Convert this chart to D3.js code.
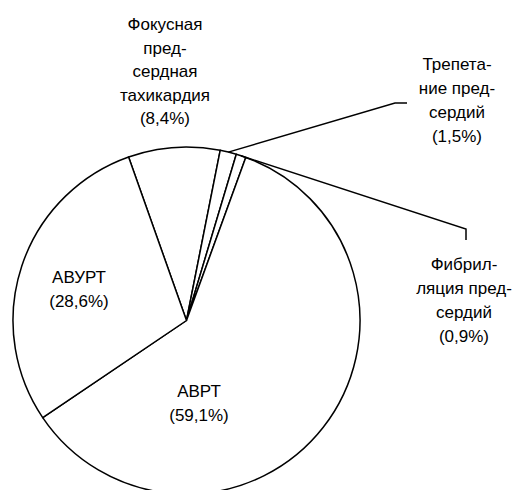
<!DOCTYPE html>
<html>
<head>
<meta charset="utf-8">
<script src="https://cdn.jsdelivr.net/npm/d3@7"></script>
<style>
  html, body { margin: 0; padding: 0; background: #fff; }
  svg text { font-family: "Liberation Sans", Arial, sans-serif; fill: #000; }
</style>
</head>
<body>
<svg id="chart" width="525" height="490"></svg>
<script>
// Distribution of tachycardia types (%)
const categories = ["Фокусная предсердная тахикардия", "Трепетание предсердий", "Фибрилляция предсердий", "АВРТ", "АВУРТ"];
const values = [8.4, 1.5, 0.9, 59.1, 28.6];
// Label text, broken into lines as printed
const labelLines = [
  ["Фокусная", "пред-", "сердная", "тахикардия"],
  ["Трепета-", "ние пред-", "сердий"],
  ["Фибрил-", "ляция пред-", "сердий"],
  ["АВРТ"],
  ["АВУРТ"]
];

const fmt = v => "(" + String(v.toFixed(1)).replace(".", ",") + "%)";

const svg = d3.select("#chart");
const W = 525, H = 490;
svg.append("rect").attr("width", W).attr("height", H).attr("fill", "#fff");

const cx = 186.5, cy = 320.5, R = 173.5;
const start = -19.5 * Math.PI / 180;

const pie = d3.pie().sort(null).startAngle(start).endAngle(start + 2 * Math.PI);
const arcs = pie(values);
const arc = d3.arc().innerRadius(0).outerRadius(R);

const g = svg.append("g").attr("transform", `translate(${cx},${cy})`);
g.selectAll("path.slice")
  .data(arcs)
  .join("path")
  .attr("class", "slice")
  .attr("d", arc)
  .attr("fill", "#fff")
  .attr("stroke", "#000")
  .attr("stroke-width", 1.5)
  .attr("stroke-linejoin", "round");

// Label placement (absolute page coordinates) and leader lines
const layout = [
  { x: 165, y: 30, dy: 23.6, leader: null },
  { x: 457, y: 70, dy: 24, leader: [[395, 103], [407, 103]] },
  { x: 464, y: 270, dy: 24, leader: [[466, 229], [466, 240]] },
  { x: 199, y: 397, dy: 24, leader: null },
  { x: 79, y: 283, dy: 24, leader: null }
];

const pt = (a) => [cx + R * Math.sin(a), cy - R * Math.cos(a)];

arcs.forEach((d, i) => {
  const L = layout[i];
  if (L.leader) {
    const mid = (d.startAngle + d.endAngle) / 2;
    const pts = [pt(mid)].concat(L.leader);
    svg.append("path")
      .attr("d", d3.line()(pts))
      .attr("fill", "none")
      .attr("stroke", "#000")
      .attr("stroke-width", 1.5);
  }
  const lines = labelLines[i].concat([fmt(values[i])]);
  const t = svg.append("text")
    .attr("text-anchor", "middle")
    .attr("font-size", 17);
  lines.forEach((s, k) => {
    t.append("tspan").attr("x", L.x).attr("y", L.y + k * L.dy).text(s);
  });
});
</script>
</body>
</html>
